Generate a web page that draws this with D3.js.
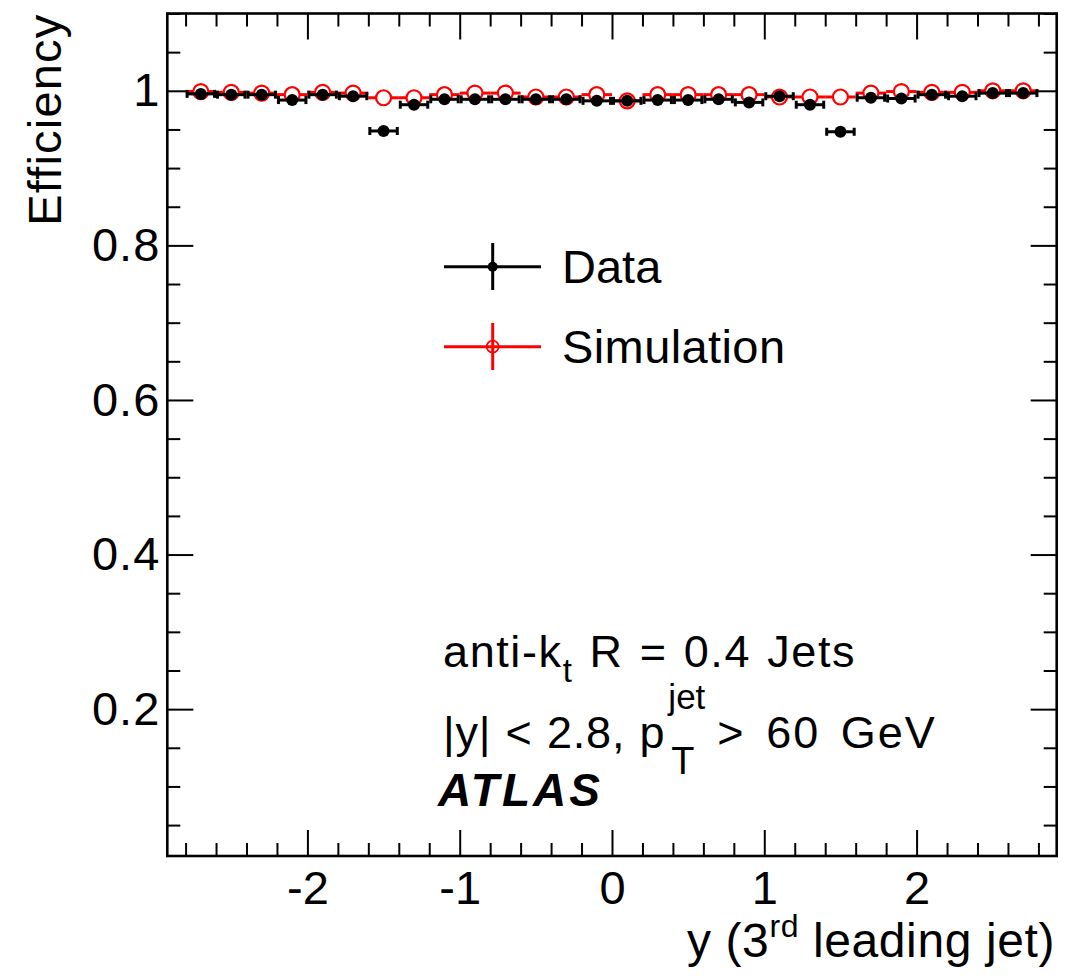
<!DOCTYPE html>
<html>
<head>
<meta charset="utf-8">
<script src="https://cdn.jsdelivr.net/npm/d3@7"></script>
<style>
  html, body { margin: 0; padding: 0; background: #fff; }
  svg { display: block; font-family: "Liberation Sans", Arial, Helvetica, sans-serif; }
</style>
</head>
<body>
<svg id="chart" width="1088" height="978"></svg>
<script>
// Bin centres in rapidity of the 3rd leading jet (bin width 0.2)
const binCenters = [-2.7, -2.5, -2.3, -2.1, -1.9, -1.7, -1.5, -1.3, -1.1, -0.9, -0.7, -0.5, -0.3, -0.1,
                     0.1, 0.3, 0.5, 0.7, 0.9, 1.1, 1.3, 1.5, 1.7, 1.9, 2.1, 2.3, 2.5, 2.7];
const binHalfWidth = 0.1;

// Efficiency measured in data
const dataEff = [0.996, 0.995, 0.995, 0.988, 0.995, 0.993, 0.948, 0.982, 0.989, 0.989, 0.989, 0.989, 0.989, 0.987,
                 0.987, 0.988, 0.988, 0.989, 0.985, 0.993, 0.982, 0.947, 0.991, 0.990, 0.995, 0.993, 0.997, 0.997];

// Efficiency in simulation
const simEff = [0.999, 0.998, 0.997, 0.995, 0.998, 0.997, 0.991, 0.991, 0.995, 0.997, 0.997, 0.992, 0.992, 0.995,
                0.987, 0.995, 0.995, 0.995, 0.995, 0.992, 0.992, 0.992, 0.997, 0.999, 0.998, 0.998, 1.000, 1.000];

// Axis ticks
const xMajorTicks = [-2, -1, 0, 1, 2];
const xMinorTicks = d3.range(-28, 29, 2).map(v => v / 10).filter(v => !xMajorTicks.includes(v));
const yMajorTicks = [0.2, 0.4, 0.6, 0.8, 1.0];
const yMinorTicks = d3.range(1, 23).map(v => v * 0.05).filter(v => !yMajorTicks.some(t => Math.abs(t - v) < 1e-9));
const yTickLabels = ["0.2", "0.4", "0.6", "0.8", "1"];

const svg = d3.select("#chart");
const frame = { left: 167.3, right: 1056.7, top: 13.5, bottom: 856 };

const x = d3.scaleLinear().domain([-2.92, 2.92]).range([frame.left, frame.right]);
const y = d3.scaleLinear().domain([0.01, 1.1]).range([frame.bottom, frame.top]);

const FONT = 47;
const majorLen = 26, minorLen = 13;

// ---- axes (ticks on all four sides, pointing inward) ----
function styleAxis(g) {
  g.select(".domain").remove();
  g.selectAll(".tick line").attr("stroke", "#000").attr("stroke-width", 2);
}

// bottom
svg.append("g").attr("transform", `translate(0,${frame.bottom})`)
  .call(d3.axisBottom(x).tickValues(xMajorTicks).tickSize(-majorLen).tickPadding(14.5)
        .tickFormat(d => d < 0 ? "-" + Math.abs(d) : String(d)))
  .call(styleAxis)
  .call(g => g.selectAll("text").attr("font-size", FONT).attr("fill", "#000"));
svg.append("g").attr("transform", `translate(0,${frame.bottom})`)
  .call(d3.axisBottom(x).tickValues(xMinorTicks).tickSize(-minorLen).tickFormat(""))
  .call(styleAxis);
// top
svg.append("g").attr("transform", `translate(0,${frame.top})`)
  .call(d3.axisTop(x).tickValues(xMajorTicks).tickSize(-majorLen).tickFormat(""))
  .call(styleAxis);
svg.append("g").attr("transform", `translate(0,${frame.top})`)
  .call(d3.axisTop(x).tickValues(xMinorTicks).tickSize(-minorLen).tickFormat(""))
  .call(styleAxis);
// left
svg.append("g").attr("transform", `translate(${frame.left},0)`)
  .call(d3.axisLeft(y).tickValues(yMajorTicks).tickSize(-majorLen).tickPadding(7)
        .tickFormat((d, i) => yTickLabels[i]))
  .call(styleAxis)
  .call(g => g.selectAll("text").attr("font-size", FONT).attr("fill", "#000").attr("letter-spacing", 1));
svg.append("g").attr("transform", `translate(${frame.left},0)`)
  .call(d3.axisLeft(y).tickValues(yMinorTicks).tickSize(-minorLen).tickFormat(""))
  .call(styleAxis);
// right
svg.append("g").attr("transform", `translate(${frame.right},0)`)
  .call(d3.axisRight(y).tickValues(yMajorTicks).tickSize(-majorLen).tickFormat(""))
  .call(styleAxis);
svg.append("g").attr("transform", `translate(${frame.right},0)`)
  .call(d3.axisRight(y).tickValues(yMinorTicks).tickSize(-minorLen).tickFormat(""))
  .call(styleAxis);

// frame
svg.append("rect")
  .attr("x", frame.left).attr("y", frame.top)
  .attr("width", frame.right - frame.left).attr("height", frame.bottom - frame.top)
  .attr("fill", "none").attr("stroke", "#000").attr("stroke-width", 2.6);

const simPts = binCenters.map((c, i) => ({ c, v: simEff[i] }));
const dataPts = binCenters.map((c, i) => ({ c, v: dataEff[i] }));

// ---- simulation: horizontal bin bars + open circles ----
const simR = 7.5;
const gSim = svg.append("g");
gSim.selectAll("line.left").data(simPts).join("line")
  .attr("x1", d => x(d.c - binHalfWidth)).attr("x2", d => x(d.c) - simR)
  .attr("y1", d => y(d.v)).attr("y2", d => y(d.v))
  .attr("stroke", "#ff0000").attr("stroke-width", 3);
gSim.selectAll("line.right").data(simPts).join("line")
  .attr("x1", d => x(d.c) + simR).attr("x2", d => x(d.c + binHalfWidth))
  .attr("y1", d => y(d.v)).attr("y2", d => y(d.v))
  .attr("stroke", "#ff0000").attr("stroke-width", 3);
gSim.selectAll("circle").data(simPts).join("circle")
  .attr("cx", d => x(d.c)).attr("cy", d => y(d.v)).attr("r", simR)
  .attr("fill", "#fff").attr("stroke", "#ff0000").attr("stroke-width", 2.2);

// ---- data: horizontal bin bars with end caps + filled circles ----
const gData = svg.append("g");
gData.selectAll("line.bar").data(dataPts).join("line")
  .attr("x1", d => x(d.c - binHalfWidth) + 1.5).attr("x2", d => x(d.c + binHalfWidth) - 1.5)
  .attr("y1", d => y(d.v)).attr("y2", d => y(d.v))
  .attr("stroke", "#000").attr("stroke-width", 3);
gData.selectAll("line.capL").data(dataPts).join("line")
  .attr("x1", d => x(d.c - binHalfWidth) + 1.5).attr("x2", d => x(d.c - binHalfWidth) + 1.5)
  .attr("y1", d => y(d.v) - 4).attr("y2", d => y(d.v) + 4)
  .attr("stroke", "#000").attr("stroke-width", 3);
gData.selectAll("line.capR").data(dataPts).join("line")
  .attr("x1", d => x(d.c + binHalfWidth) - 1.5).attr("x2", d => x(d.c + binHalfWidth) - 1.5)
  .attr("y1", d => y(d.v) - 4).attr("y2", d => y(d.v) + 4)
  .attr("stroke", "#000").attr("stroke-width", 3);
gData.selectAll("circle").data(dataPts).join("circle")
  .attr("cx", d => x(d.c)).attr("cy", d => y(d.v)).attr("r", 6)
  .attr("fill", "#000");

// ---- axis titles ----
const xt = svg.append("text").attr("x", 1055).attr("y", 957)
  .attr("text-anchor", "end").attr("font-size", 48).attr("letter-spacing", 0.6).attr("fill", "#000");
xt.append("tspan").text("y (3");
xt.append("tspan").attr("font-size", 32).attr("dy", -20).text("rd");
xt.append("tspan").attr("dy", 20).text(" leading jet)");

svg.append("text")
  .attr("transform", `translate(61,${frame.top}) rotate(-90)`)
  .attr("text-anchor", "end").attr("font-size", FONT).attr("letter-spacing", 1.2).attr("fill", "#000")
  .text("Efficiency");

// ---- legend ----
const legend = svg.append("g");
const legX1 = 444, legX2 = 541, legMid = 492.7;
// Data entry
legend.append("line").attr("x1", legX1).attr("x2", legX2).attr("y1", 266.7).attr("y2", 266.7)
  .attr("stroke", "#000").attr("stroke-width", 3);
legend.append("line").attr("x1", legMid).attr("x2", legMid).attr("y1", 243).attr("y2", 290)
  .attr("stroke", "#000").attr("stroke-width", 3);
legend.append("circle").attr("cx", legMid).attr("cy", 266.7).attr("r", 5).attr("fill", "#000");
legend.append("text").attr("x", 562).attr("y", 283).attr("font-size", FONT).attr("fill", "#000").text("Data");
// Simulation entry
legend.append("line").attr("x1", legX1).attr("x2", legX2).attr("y1", 346.7).attr("y2", 346.7)
  .attr("stroke", "#ff0000").attr("stroke-width", 3);
legend.append("line").attr("x1", legMid).attr("x2", legMid).attr("y1", 323).attr("y2", 370)
  .attr("stroke", "#ff0000").attr("stroke-width", 3);
legend.append("circle").attr("cx", legMid).attr("cy", 346.7).attr("r", 6)
  .attr("fill", "none").attr("stroke", "#ff0000").attr("stroke-width", 1.8);
legend.append("text").attr("x", 562).attr("y", 363).attr("font-size", FONT).attr("letter-spacing", 0.4)
  .attr("fill", "#000").text("Simulation");

// ---- annotations ----
const ANN = 45;
const t1 = svg.append("text").attr("x", 443).attr("y", 667).attr("font-size", ANN)
  .attr("letter-spacing", 1.6).attr("word-spacing", 2).attr("fill", "#000");
t1.append("tspan").text("anti-k");
t1.append("tspan").attr("font-size", 33).attr("dy", 15).text("t");
t1.append("tspan").attr("dy", -15).text(" R = 0.4 Jets");

const l2y = 748;
const t2a = svg.append("text").attr("x", 443).attr("y", l2y).attr("font-size", ANN)
  .attr("letter-spacing", 0.8).attr("word-spacing", 1).attr("fill", "#000")
  .text("|y| < 2.8, p");
const pEnd = 443 + t2a.node().getComputedTextLength();
svg.append("text").attr("x", pEnd + 3).attr("y", l2y - 39).attr("font-size", 35).attr("fill", "#000").text("jet");
svg.append("text").attr("x", pEnd + 6).attr("y", l2y + 26).attr("font-size", 38).attr("fill", "#000").text("T");
svg.append("text").attr("x", pEnd + 52).attr("y", l2y).attr("font-size", ANN)
  .attr("letter-spacing", 2).attr("word-spacing", 6).attr("fill", "#000").text("> 60 GeV");

svg.append("text").attr("x", 438).attr("y", 806).attr("font-size", 46).attr("letter-spacing", 3)
  .attr("font-weight", "bold").attr("font-style", "italic").attr("fill", "#000").text("ATLAS");
</script>
</body>
</html>
